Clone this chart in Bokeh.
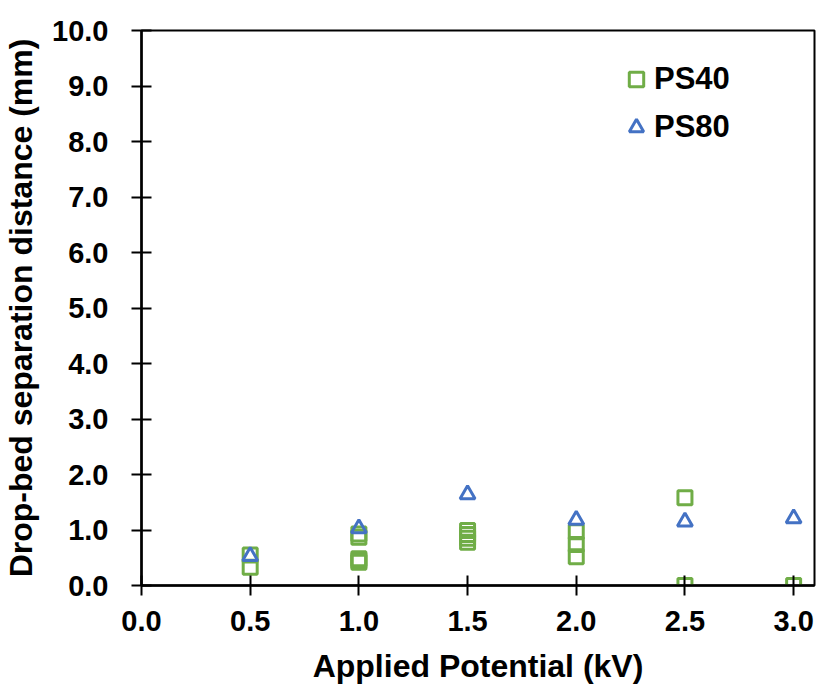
from bokeh.plotting import figure
from bokeh.models import Legend, LegendItem, FixedTicker, NumeralTickFormatter, Range1d
from bokeh.embed import file_html
from bokeh.resources import INLINE

ps40_x = [0.5, 0.5, 1.0, 1.0, 1.0, 1.0, 1.0, 1.5, 1.5, 1.5, 1.5, 2.0, 2.0, 2.0, 2.5, 2.5, 3.0]
ps40_y = [0.55, 0.33, 0.93, 0.87, 0.48, 0.45, 0.42, 0.99, 0.92, 0.85, 0.78, 0.97, 0.74, 0.52, 1.58, 0.0, 0.0]

ps80_x = [0.5, 1.0, 1.5, 2.0, 2.5, 3.0]
ps80_y = [0.53, 1.03, 1.64, 1.18, 1.15, 1.21]

x_ticks = [0.0, 0.5, 1.0, 1.5, 2.0, 2.5, 3.0]
y_ticks = [0.0, 1.0, 2.0, 3.0, 4.0, 5.0, 6.0, 7.0, 8.0, 9.0, 10.0]

GREEN = "#70AD47"
BLUE = "#4472C4"
FONT = "Liberation Sans"

p = figure(width=818, height=686, output_backend="svg", toolbar_location=None,
           x_range=Range1d(0, 3.096), y_range=Range1d(0, 10),
           min_border_left=140, min_border_right=4, min_border_top=30, min_border_bottom=99)

r40 = p.scatter(ps40_x, ps40_y, marker="square", size=14, fill_color=None,
                line_color=GREEN, line_width=3)
r80 = p.scatter(ps80_x, ps80_y, marker="triangle", size=15, fill_color=None,
                line_color=BLUE, line_width=3)

p.grid.visible = False
p.outline_line_color = "black"
p.outline_line_width = 2

for ax in (p.xaxis[0], p.yaxis[0]):
    ax.axis_line_width = 2.5
    ax.axis_line_color = "black"
    ax.major_tick_line_width = 2
    ax.major_tick_line_color = "black"
    ax.major_tick_in = 10
    ax.major_tick_out = 10
    ax.minor_tick_line_color = None
    ax.major_label_text_font = FONT
    ax.major_label_text_font_style = "bold"
    ax.major_label_text_font_size = "29px"
    ax.major_label_text_color = "black"
    ax.axis_label_text_font = FONT
    ax.axis_label_text_font_style = "bold"
    ax.axis_label_text_font_size = "32px"
    ax.axis_label_text_color = "black"
    ax.formatter = NumeralTickFormatter(format="0.0")

p.xaxis[0].ticker = FixedTicker(ticks=x_ticks)
p.yaxis[0].ticker = FixedTicker(ticks=y_ticks)
p.xaxis[0].axis_label = "Applied Potential (kV)"
p.yaxis[0].axis_label = "Drop-bed separation distance (mm)"
p.xaxis[0].major_label_standoff = 15
p.yaxis[0].major_label_standoff = 23
p.xaxis[0].axis_label_standoff = 14
p.yaxis[0].axis_label_standoff = 10

legend = Legend(items=[LegendItem(label="PS40", renderers=[r40]),
                       LegendItem(label="PS80", renderers=[r80])],
                location=(477, 440), orientation="vertical")
legend.border_line_color = None
legend.background_fill_alpha = 0
legend.padding = 8
legend.glyph_width = 36
legend.glyph_height = 36
legend.label_height = 36
legend.spacing = 12
legend.label_standoff = 0
legend.label_text_font = FONT
legend.label_text_font_style = "bold"
legend.label_text_font_size = "31px"
legend.label_text_color = "black"
p.add_layout(legend, "center")

open("out.html", "w").write(file_html(p, INLINE))
